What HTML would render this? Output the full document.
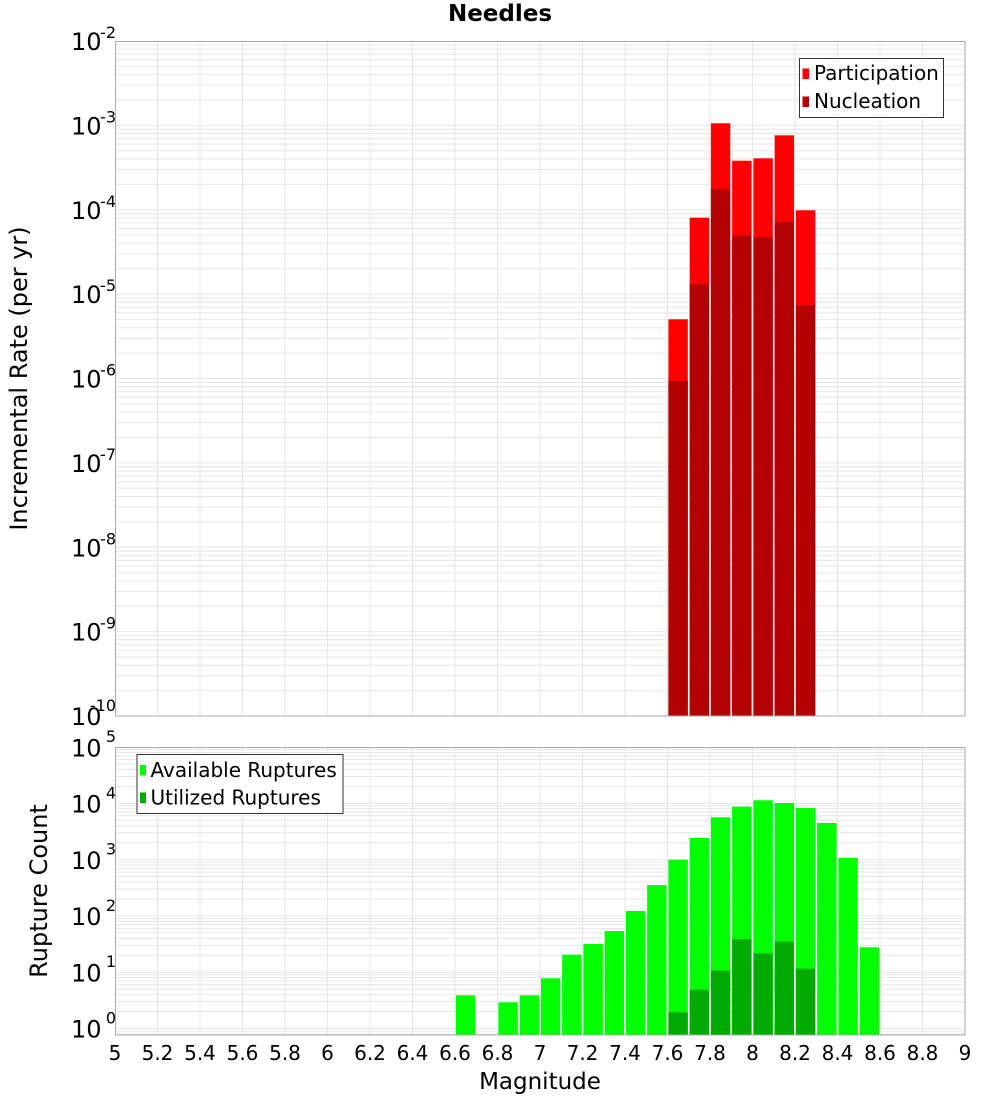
<!DOCTYPE html>
<html>
<head>
<meta charset="utf-8">
<style>
html,body{margin:0;padding:0;background:#fff;}
svg{display:block;}
text{font-family:"DejaVu Sans","Liberation Sans",sans-serif;fill:#000;}
</style>
</head>
<body>
<svg width="1000" height="1100" viewBox="0 0 1000 1100" xmlns="http://www.w3.org/2000/svg">
<defs>
  <g id="topdec" stroke="#e6e6e6" stroke-width="1">
    <line x1="115" x2="965" y1="0" y2="0"/>
    <line x1="115" x2="965" y1="-25.40" y2="-25.40"/>
    <line x1="115" x2="965" y1="-40.26" y2="-40.26"/>
    <line x1="115" x2="965" y1="-50.80" y2="-50.80"/>
    <line x1="115" x2="965" y1="-58.98" y2="-58.98"/>
    <line x1="115" x2="965" y1="-65.66" y2="-65.66"/>
    <line x1="115" x2="965" y1="-71.31" y2="-71.31"/>
    <line x1="115" x2="965" y1="-76.20" y2="-76.20"/>
    <line x1="115" x2="965" y1="-80.51" y2="-80.51"/>
  </g>
  <g id="botdec" stroke="#e6e6e6" stroke-width="1">
    <line x1="115" x2="965" y1="0" y2="0"/>
    <line x1="115" x2="965" y1="-16.95" y2="-16.95"/>
    <line x1="115" x2="965" y1="-26.86" y2="-26.86"/>
    <line x1="115" x2="965" y1="-33.90" y2="-33.90"/>
    <line x1="115" x2="965" y1="-39.35" y2="-39.35"/>
    <line x1="115" x2="965" y1="-43.81" y2="-43.81"/>
    <line x1="115" x2="965" y1="-47.58" y2="-47.58"/>
    <line x1="115" x2="965" y1="-50.84" y2="-50.84"/>
    <line x1="115" x2="965" y1="-53.72" y2="-53.72"/>
  </g>
  <g id="vgrid" stroke="#e6e6e6" stroke-width="1">
    <line x1="157.5" x2="157.5" y1="0" y2="1"/>
    <line x1="200" x2="200" y1="0" y2="1"/>
    <line x1="242.5" x2="242.5" y1="0" y2="1"/>
    <line x1="285" x2="285" y1="0" y2="1"/>
    <line x1="327.5" x2="327.5" y1="0" y2="1"/>
    <line x1="370" x2="370" y1="0" y2="1"/>
    <line x1="412.5" x2="412.5" y1="0" y2="1"/>
    <line x1="455" x2="455" y1="0" y2="1"/>
    <line x1="497.5" x2="497.5" y1="0" y2="1"/>
    <line x1="540" x2="540" y1="0" y2="1"/>
    <line x1="582.5" x2="582.5" y1="0" y2="1"/>
    <line x1="625" x2="625" y1="0" y2="1"/>
    <line x1="667.5" x2="667.5" y1="0" y2="1"/>
    <line x1="710" x2="710" y1="0" y2="1"/>
    <line x1="752.5" x2="752.5" y1="0" y2="1"/>
    <line x1="795" x2="795" y1="0" y2="1"/>
    <line x1="837.5" x2="837.5" y1="0" y2="1"/>
    <line x1="880" x2="880" y1="0" y2="1"/>
    <line x1="922.5" x2="922.5" y1="0" y2="1"/>
  </g>
  <clipPath id="ctop"><rect x="115" y="41" width="850" height="675"/></clipPath>
  <clipPath id="cbot"><rect x="115" y="747" width="850" height="288"/></clipPath>
</defs>

<!-- Title -->
<text x="500" y="21" font-size="23" font-weight="bold" text-anchor="middle">Needles</text>

<!-- ===== TOP CHART ===== -->
<g clip-path="url(#ctop)">
  <use href="#vgrid" transform="translate(0,41) scale(1,675)"/>
  <use href="#topdec" transform="translate(0,716)"/>
  <use href="#topdec" transform="translate(0,631.625)"/>
  <use href="#topdec" transform="translate(0,547.25)"/>
  <use href="#topdec" transform="translate(0,462.875)"/>
  <use href="#topdec" transform="translate(0,378.5)"/>
  <use href="#topdec" transform="translate(0,294.125)"/>
  <use href="#topdec" transform="translate(0,209.75)"/>
  <use href="#topdec" transform="translate(0,125.375)"/>
</g>
<!-- participation bars -->
<g fill="#ff0000">
  <rect x="668.4" y="319.3" width="19.4" height="396.7"/>
  <rect x="689.65" y="217.7" width="19.4" height="498.3"/>
  <rect x="710.9" y="123.3" width="19.4" height="592.7"/>
  <rect x="732.15" y="160.7" width="19.4" height="555.3"/>
  <rect x="753.4" y="158.3" width="19.4" height="557.7"/>
  <rect x="774.65" y="135.3" width="19.4" height="580.7"/>
  <rect x="795.9" y="210.3" width="19.4" height="505.7"/>
</g>
<!-- nucleation bars -->
<g fill="#b30000">
  <rect x="668.4" y="381" width="19.4" height="335"/>
  <rect x="689.65" y="284.3" width="19.4" height="431.7"/>
  <rect x="710.9" y="189.3" width="19.4" height="526.7"/>
  <rect x="732.15" y="235.7" width="19.4" height="480.3"/>
  <rect x="753.4" y="237.3" width="19.4" height="478.7"/>
  <rect x="774.65" y="222" width="19.4" height="494"/>
  <rect x="795.9" y="305" width="19.4" height="411"/>
</g>
<rect x="115.5" y="41.5" width="849.5" height="674.5" fill="none" stroke="#aaaaaa" stroke-width="1"/>

<!-- top y tick labels -->
<g font-size="24" text-anchor="end">
  <text x="101.5" y="50">10</text>
  <text x="101.5" y="134.4">10</text>
  <text x="101.5" y="218.8">10</text>
  <text x="101.5" y="303.1">10</text>
  <text x="101.5" y="387.5">10</text>
  <text x="101.5" y="471.9">10</text>
  <text x="101.5" y="556.3">10</text>
  <text x="101.5" y="640.6">10</text>
  <text x="101.5" y="725">10</text>
</g>
<g font-size="16" text-anchor="end">
  <text x="116" y="38">-2</text>
  <text x="116" y="122.4">-3</text>
  <text x="116" y="206.8">-4</text>
  <text x="116" y="291.1">-5</text>
  <text x="116" y="375.5">-6</text>
  <text x="116" y="459.9">-7</text>
  <text x="116" y="544.3">-8</text>
  <text x="116" y="628.6">-9</text>
  <text x="116" y="711">-10</text>
</g>
<text transform="translate(27,378.5) rotate(-90)" font-size="24" text-anchor="middle">Incremental Rate (per yr)</text>

<!-- top legend -->
<rect x="799.5" y="58.5" width="144" height="59" fill="#fff" stroke="#333" stroke-width="1"/>
<rect x="802.5" y="68.5" width="6.5" height="10.5" fill="#ff0000"/>
<rect x="802.5" y="96.5" width="6.5" height="10.5" fill="#b30000"/>
<text x="814" y="80" font-size="20">Participation</text>
<text x="814" y="108" font-size="20">Nucleation</text>

<!-- ===== BOTTOM CHART ===== -->
<g clip-path="url(#cbot)">
  <use href="#vgrid" transform="translate(0,747) scale(1,288)"/>
  <use href="#botdec" transform="translate(0,1084.8)"/>
  <use href="#botdec" transform="translate(0,1028.5)"/>
  <use href="#botdec" transform="translate(0,972.2)"/>
  <use href="#botdec" transform="translate(0,915.9)"/>
  <use href="#botdec" transform="translate(0,859.6)"/>
  <use href="#botdec" transform="translate(0,803.3)"/>
</g>
<!-- available ruptures -->
<g fill="#00ff00">
  <rect x="455.9" y="995.3" width="19.4" height="39.7"/>
  <rect x="498.4" y="1002.3" width="19.4" height="32.7"/>
  <rect x="519.65" y="995.3" width="19.4" height="39.7"/>
  <rect x="540.9" y="978.3" width="19.4" height="56.7"/>
  <rect x="562.15" y="954.7" width="19.4" height="80.3"/>
  <rect x="583.4" y="944" width="19.4" height="91"/>
  <rect x="604.65" y="931" width="19.4" height="104"/>
  <rect x="625.9" y="911" width="19.4" height="124"/>
  <rect x="647.15" y="885" width="19.4" height="150"/>
  <rect x="668.4" y="859.7" width="19.4" height="175.3"/>
  <rect x="689.65" y="838" width="19.4" height="197"/>
  <rect x="710.9" y="817.3" width="19.4" height="217.7"/>
  <rect x="732.15" y="806.7" width="19.4" height="228.3"/>
  <rect x="753.4" y="800.3" width="19.4" height="234.7"/>
  <rect x="774.65" y="803" width="19.4" height="232"/>
  <rect x="795.9" y="808" width="19.4" height="227"/>
  <rect x="817.15" y="823" width="19.4" height="212"/>
  <rect x="838.4" y="858" width="19.4" height="177"/>
  <rect x="859.65" y="947.3" width="19.4" height="87.7"/>
</g>
<!-- utilized ruptures -->
<g fill="#00aa00">
  <rect x="668.4" y="1012.3" width="19.4" height="22.7"/>
  <rect x="689.65" y="989.7" width="19.4" height="45.3"/>
  <rect x="710.9" y="970.7" width="19.4" height="64.3"/>
  <rect x="732.15" y="939.3" width="19.4" height="95.7"/>
  <rect x="753.4" y="953.3" width="19.4" height="81.7"/>
  <rect x="774.65" y="941.7" width="19.4" height="93.3"/>
  <rect x="795.9" y="968.7" width="19.4" height="66.3"/>
</g>
<rect x="115.5" y="747.5" width="849.5" height="287.5" fill="none" stroke="#aaaaaa" stroke-width="1"/>

<!-- bottom y tick labels -->
<g font-size="24" text-anchor="end">
  <text x="101.5" y="756.7">10</text>
  <text x="101.5" y="812.5">10</text>
  <text x="101.5" y="868.8">10</text>
  <text x="101.5" y="925.1">10</text>
  <text x="101.5" y="981.4">10</text>
  <text x="101.5" y="1037.7">10</text>
</g>
<g font-size="16" text-anchor="end">
  <text x="116" y="742">5</text>
  <text x="116" y="798.3">4</text>
  <text x="116" y="854.6">3</text>
  <text x="116" y="910.9">2</text>
  <text x="116" y="967.2">1</text>
  <text x="116" y="1023.5">0</text>
</g>
<text transform="translate(47,891) rotate(-90)" font-size="24" text-anchor="middle">Rupture Count</text>

<!-- bottom legend -->
<rect x="137" y="754.5" width="206" height="59" fill="#fff" stroke="#333" stroke-width="1"/>
<rect x="140" y="765" width="6" height="10.5" fill="#00ff00"/>
<rect x="140" y="792.5" width="6" height="10.5" fill="#00aa00"/>
<text x="150.5" y="777" font-size="20">Available Ruptures</text>
<text x="150.5" y="804.5" font-size="20">Utilized Ruptures</text>

<!-- x tick labels -->
<g font-size="20" text-anchor="middle">
  <text x="115" y="1060">5</text>
  <text x="157.5" y="1060">5.2</text>
  <text x="200" y="1060">5.4</text>
  <text x="242.5" y="1060">5.6</text>
  <text x="285" y="1060">5.8</text>
  <text x="327.5" y="1060">6</text>
  <text x="370" y="1060">6.2</text>
  <text x="412.5" y="1060">6.4</text>
  <text x="455" y="1060">6.6</text>
  <text x="497.5" y="1060">6.8</text>
  <text x="540" y="1060">7</text>
  <text x="582.5" y="1060">7.2</text>
  <text x="625" y="1060">7.4</text>
  <text x="667.5" y="1060">7.6</text>
  <text x="710" y="1060">7.8</text>
  <text x="752.5" y="1060">8</text>
  <text x="795" y="1060">8.2</text>
  <text x="837.5" y="1060">8.4</text>
  <text x="880" y="1060">8.6</text>
  <text x="922.5" y="1060">8.8</text>
  <text x="965" y="1060">9</text>
</g>
<text x="540" y="1089" font-size="23" text-anchor="middle">Magnitude</text>
</svg>
</body>
</html>
